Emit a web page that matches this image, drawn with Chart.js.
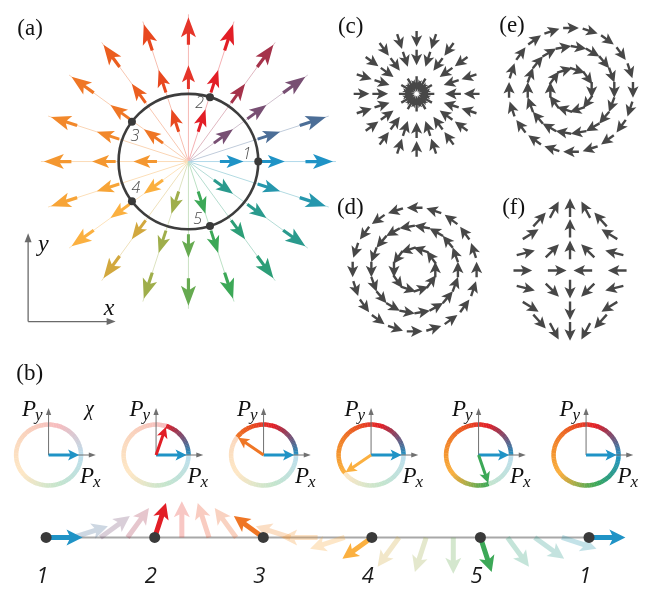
<!DOCTYPE html>
<html>
<head>
<meta charset="utf-8">
<script src="https://cdn.jsdelivr.net/npm/chart.js@4.4.1/dist/chart.umd.min.js"></script>
<style>
  html, body { margin: 0; padding: 0; background: #fff; }
  #fig { display: block; }
</style>
</head>
<body>
<canvas id="fig" width="667" height="593"></canvas>
<script>
// ---- data ----
var rayAngles = [0, 18, 36, 54, 72, 90, 108, 126, 144, 162, 180, 198, 216, 234, 252, 270, 288, 306, 324, 342];
var rayColors = ['#1f93c6', '#4c6e97', '#784f73', '#a5324a', '#e21e26', '#e5352a', '#e8481f', '#eb5e1f', '#ef7625', '#f2882b',
                 '#f49730', '#f7a437', '#fbb040', '#d2a83e', '#9fae4b', '#66aa50', '#3ca857', '#2c9e77', '#2a9a8d', '#2697ad'];
var innerAngles = [0, 36, 72, 108, 144, 180, 216, 252, 288, 324];
var rayTipRadii = [98, 147];
var innerTipRadius = 56;
var stateNames = ['1', '2', '3', '4', '5'];
var stateAngles = [0, 72, 144, 216, 288];
var stateLabelAngles = [7, 79, 155, 207, 279];

// (c) sink
var sinkTailRadii = [45, 64];
var sinkCoreAngles = [0, 30, 60, 90, 120, 150, 180, 210, 240, 270, 300, 330];

// (d), (e) vortices
var vortexRadii = [21, 44, 63];
var vortexRing10 = [0, 36, 72, 108, 144, 180, 216, 252, 288, 324];
var vortexRing18 = [0, 20, 40, 60, 80, 100, 120, 140, 160, 180, 200, 220, 240, 260, 280, 300, 320, 340];
var vortexRing20 = rayAngles;

// (f) saddle: [dx, dy (up), direction]
var saddleArrows = [
  [0, 64, 90], [0, 43, 90], [0, 21, 90], [0, -19, 270], [0, -41, 270], [0, -62, 270],
  [-48, 0, 0], [-13, 0, 0], [13, 0, 180], [48, 0, 180],
  [-16, 62, 62], [-31, 52, 48], [-40, 37, 32], [-45, 18, 14], [-18, 20, 45],
  [16, 62, 118], [31, 52, 132], [40, 37, 148], [45, 18, 166], [18, 20, 135],
  [-16, -62, -62], [-31, -52, -48], [-40, -37, -32], [-45, -18, -14], [-18, -20, -45],
  [16, -62, 242], [31, -52, 228], [40, -37, 212], [45, -18, 194], [18, -20, 225]
];

// (b) track and phase circles
var trackAngles = [0, 18, 36, 54, 72, 90, 108, 126, 144, 162, 180, 198, 216, 234, 252, 270, 288, 306, 324, 342, 360];
var trackNames = ['1', '2', '3', '4', '5', '1'];
var phaseAngles = [0, 72, 144, 216, 288, 360];

// ---- layout (positions / sizes) ----
var L = {
  a: { cx: 186, cy: 159, rx: 71, ry: 69, rayLen: 150 },
  axes: { ox: 23, oy: 322, top: 232, right: 112 },
  c: { cx: 418, cy: 90 },
  e: { cx: 575, cy: 86 },
  d: { cx: 416, cy: 269 },
  f: { cx: 574, cy: 270 },
  ring: { x0: 43.8, step: 109.3, y: 458, rx: 33, ry: 31 },
  track: { x0: 41.3, step: 27.6, y: 542, len: 37 }
};
var arrowStyles = {
  big: { head: 20, hw: 7.5, shaft: 3.2 },
  mid: { head: 17, hw: 6.5, shaft: 3 },
  gray: { head: 11.5, hw: 5.6, shaft: 2.4 },
  track: { head: 16, hw: 8, shaft: 5 },
  ring: { head: 11, hw: 5.5, shaft: 3 }
};

function hexRgb(h) { return [parseInt(h.substr(1, 2), 16), parseInt(h.substr(3, 2), 16), parseInt(h.substr(5, 2), 16)]; }
function colorAt(deg) {
  deg = ((deg % 360) + 360) % 360;
  var f = deg / 18, i = Math.floor(f), t = f - i;
  var a = hexRgb(rayColors[i % 20]), b = hexRgb(rayColors[(i + 1) % 20]);
  return [a[0] + (b[0] - a[0]) * t, a[1] + (b[1] - a[1]) * t, a[2] + (b[2] - a[2]) * t];
}
function rgbStr(c, fade) {
  return 'rgb(' + [0, 1, 2].map(function (k) { return Math.round(255 - (255 - c[k]) * fade); }).join(',') + ')';
}
function polar(cx, cy, r, deg) {
  var t = deg * Math.PI / 180;
  return { x: cx + r * Math.cos(t), y: cy - r * Math.sin(t) };
}
function ellPoint(cx, cy, rx, ry, deg) {
  var t = deg * Math.PI / 180;
  return { x: cx + rx * Math.cos(t), y: cy - ry * Math.sin(t) };
}

// ---- build datasets ----
var A = L.a;
var rayData = rayAngles.map(function (a, i) {
  var p = polar(A.cx, A.cy, A.rayLen, a);
  return { x: p.x, y: p.y, c: rayColors[i] };
});

var fieldArrows = [];
rayAngles.forEach(function (a, i) {
  rayTipRadii.forEach(function (r, j) {
    var len = j === 0 ? 24 : 28;
    var t = polar(A.cx, A.cy, r - len, a), h = polar(A.cx, A.cy, r, a);
    fieldArrows.push({ x: t.x, y: t.y, tx: h.x, ty: h.y, c: rayColors[i], alpha: 1, st: j === 0 ? 'mid' : 'big' });
  });
});
innerAngles.forEach(function (a) {
  var t = polar(A.cx, A.cy, innerTipRadius - 24, a), h = polar(A.cx, A.cy, innerTipRadius, a);
  fieldArrows.push({ x: t.x, y: t.y, tx: h.x, ty: h.y, c: rayColors[rayAngles.indexOf(a)], alpha: 1, st: 'mid' });
});

var grayArrows = [];
function pushGray(tail, tip) {
  grayArrows.push({ x: tail.x, y: tail.y, tx: tip.x, ty: tip.y, c: '#474747', alpha: 1, st: 'gray' });
}
// (c)
sinkTailRadii.forEach(function (r) {
  rayAngles.forEach(function (a) {
    pushGray(polar(L.c.cx, L.c.cy, r, a), polar(L.c.cx, L.c.cy, r - 16, a));
  });
});
sinkCoreAngles.forEach(function (a) {
  pushGray(polar(L.c.cx, L.c.cy, 18, a), polar(L.c.cx, L.c.cy, 2, a));
});
// (d) counter-clockwise, (e) clockwise
[[L.d, 1], [L.e, -1]].forEach(function (pair) {
  var P = pair[0], s = pair[1];
  [vortexRing10, vortexRing18, vortexRing20].forEach(function (ring, k) {
    ring.forEach(function (a) {
      var p = polar(P.cx, P.cy, vortexRadii[k], a);
      var u = polar(0, 0, 8, a + s * 90);
      pushGray({ x: p.x - u.x, y: p.y - u.y }, { x: p.x + u.x, y: p.y + u.y });
    });
  });
});
// (f)
saddleArrows.forEach(function (s) {
  var p = { x: L.f.cx + s[0], y: L.f.cy - s[1] };
  var u = polar(0, 0, 9.5, s[2]);
  pushGray({ x: p.x - u.x, y: p.y - u.y }, { x: p.x + u.x, y: p.y + u.y });
});

// (b) phase circles
var R = L.ring;
var phaseData = phaseAngles.map(function (p, k) { return { x: R.x0 + k * R.step, y: R.y, p: p }; });
var ringArrows = [];
phaseData.forEach(function (d) {
  ringArrows.push({ x: d.x, y: d.y, tx: d.x + 31, ty: d.y, c: rayColors[0], alpha: 1, st: 'ring' });
  if (d.p % 360 !== 0) {
    var e = ellPoint(d.x, d.y, R.rx - 1, R.ry - 1, d.p);
    ringArrows.push({ x: d.x, y: d.y, tx: e.x, ty: e.y, c: rgbStr(colorAt(d.p), 1), alpha: 1, st: 'ring' });
  }
});

// (b) track
var T = L.track;
var trackArrows = [];
trackAngles.forEach(function (a, i) {
  var tail = { x: T.x0 + i * T.step, y: T.y };
  var tip = polar(tail.x, tail.y, T.len, a);
  var bright = i % 4 === 0;
  trackArrows.push({ x: tail.x, y: tail.y, tx: tip.x, ty: tip.y, c: rgbStr(colorAt(a), 1), alpha: bright ? 1 : 0.28, st: 'track' });
});
trackArrows.sort(function (p, q) { return p.alpha - q.alpha; });

var stateDots = stateAngles.map(function (a) { return ellPoint(A.cx, A.cy, A.rx, A.ry, a); });
var trackDots = trackNames.map(function (n, k) { return { x: T.x0 + k * 4 * T.step, y: T.y }; });

// ---- drawing helpers ----
function drawArrow(ctx, x0, y0, x1, y1, st, color, alpha) {
  var dx = x1 - x0, dy = y1 - y0, len = Math.hypot(dx, dy);
  if (len < 0.5) return;
  var ux = dx / len, uy = dy / len, nx = -uy, ny = ux;
  var hl = Math.min(st.head, len * 0.85), hw = st.hw, sw = st.shaft / 2;
  var notch = 0.76;
  var neckU = -hl + (1 - notch) * hl * (hw - sw) / hw;
  function pt(u, n) { return [x1 + ux * u + nx * n, y1 + uy * u + ny * n]; }
  var pts = [
    [x0 + nx * sw, y0 + ny * sw], pt(neckU, sw), pt(-hl, hw), [x1, y1],
    pt(-hl, -hw), pt(neckU, -sw), [x0 - nx * sw, y0 - ny * sw]
  ];
  ctx.globalAlpha = alpha;
  ctx.fillStyle = color;
  ctx.beginPath();
  ctx.moveTo(pts[0][0], pts[0][1]);
  for (var i = 1; i < pts.length; i++) ctx.lineTo(pts[i][0], pts[i][1]);
  ctx.closePath();
  ctx.fill();
  ctx.globalAlpha = 1;
}
function axisArrow(ctx, x0, y0, x1, y1, color, width, hl, hw) {
  var dx = x1 - x0, dy = y1 - y0, len = Math.hypot(dx, dy), ux = dx / len, uy = dy / len;
  ctx.strokeStyle = color; ctx.fillStyle = color; ctx.lineWidth = width;
  ctx.beginPath(); ctx.moveTo(x0, y0); ctx.lineTo(x1 - ux * hl * 0.6, y1 - uy * hl * 0.6); ctx.stroke();
  ctx.beginPath();
  ctx.moveTo(x1, y1);
  ctx.lineTo(x1 - ux * hl - uy * hw, y1 - uy * hl + ux * hw);
  ctx.lineTo(x1 - ux * hl + uy * hw, y1 - uy * hl - ux * hw);
  ctx.closePath(); ctx.fill();
}

var figurePlugin = {
  id: 'figure',
  beforeDatasetsDraw: function (chart) {
    var ctx = chart.ctx, xs = chart.scales.x, ys = chart.scales.y;
    function X(v) { return xs.getPixelForValue(v); }
    function Y(v) { return ys.getPixelForValue(v); }
    ctx.save();
    chart.data.datasets.forEach(function (ds, di) {
      var meta = chart.getDatasetMeta(di);
      if (ds.kind === 'rays') {
        meta.data.forEach(function (el, i) {
          ctx.strokeStyle = rgbStr(hexRgb(ds.data[i].c), 0.35);
          ctx.lineWidth = 1;
          ctx.beginPath(); ctx.moveTo(X(ds.cx), Y(ds.cy)); ctx.lineTo(el.x, el.y); ctx.stroke();
        });
      } else if (ds.kind === 'loop') {
        var el = meta.data[0];
        ctx.strokeStyle = '#3d3d3d'; ctx.lineWidth = 2.6;
        ctx.beginPath();
        ctx.ellipse(el.x, el.y, X(ds.data[0].x + ds.rx) - el.x, Y(ds.data[0].y + ds.ry) - el.y, 0, 0, Math.PI * 2);
        ctx.stroke();
      } else if (ds.kind === 'phase') {
        meta.data.forEach(function (el, i) {
          var d = ds.data[i];
          var rx = X(d.x + ds.rx) - el.x, ry = Y(d.y + ds.ry) - el.y;
          ctx.lineWidth = 4.5; ctx.lineCap = 'butt';
          for (var a = 0; a < 360; a += 3) {
            var on = a + 1.5 <= d.p;
            ctx.strokeStyle = rgbStr(colorAt(a + 1.5), on ? 1 : 0.3);
            ctx.beginPath();
            ctx.ellipse(el.x, el.y, rx, ry, 0, -(a + 3.6) * Math.PI / 180, -a * Math.PI / 180);
            ctx.stroke();
          }
          axisArrow(ctx, el.x, el.y, el.x, Y(d.y - 48), '#707070', 1, 7, 2.6);
          axisArrow(ctx, el.x, el.y, X(d.x + 48), el.y, '#707070', 1, 7, 2.6);
        });
      } else if (ds.kind === 'trackline') {
        ctx.strokeStyle = '#a8a8a8'; ctx.lineWidth = 2;
        ctx.beginPath();
        ctx.moveTo(meta.data[0].x, meta.data[0].y);
        ctx.lineTo(meta.data[1].x, meta.data[1].y);
        ctx.stroke();
      } else if (ds.kind === 'arrows') {
        meta.data.forEach(function (el, i) {
          var d = ds.data[i];
          drawArrow(ctx, el.x, el.y, X(d.tx), Y(d.ty), arrowStyles[d.st], d.c, d.alpha);
        });
      }
    });
    ctx.restore();
  },
  afterDatasetsDraw: function (chart) {
    var ctx = chart.ctx, xs = chart.scales.x, ys = chart.scales.y;
    function X(v) { return xs.getPixelForValue(v); }
    function Y(v) { return ys.getPixelForValue(v); }
    ctx.save();
    // panel letters
    ctx.fillStyle = '#111';
    ctx.font = '23px "Liberation Serif", serif';
    ctx.textBaseline = 'alphabetic'; ctx.textAlign = 'left';
    [['(a)', 12, 30], ['(c)', 338, 28], ['(e)', 502, 27], ['(d)', 337, 212], ['(f)', 505, 212], ['(b)', 11, 382]].forEach(function (t) {
      ctx.fillText(t[0], X(t[1]), Y(t[2]));
    });
    // x-y axes of (a)
    var ax = L.axes;
    axisArrow(ctx, X(ax.ox), Y(ax.oy), X(ax.ox), Y(ax.top), '#6a6a6a', 1.3, 9, 3.5);
    axisArrow(ctx, X(ax.ox), Y(ax.oy), X(ax.right), Y(ax.oy), '#6a6a6a', 1.3, 9, 3.5);
    ctx.fillStyle = '#111';
    ctx.font = 'italic 24px "Liberation Serif", serif';
    ctx.fillText('y', X(33), Y(250));
    ctx.fillText('x', X(100), Y(315));
    // state numbers in (a)
    ctx.fillStyle = '#4a4a4a';
    ctx.font = 'italic 300 16px "Open Sans", sans-serif';
    ctx.textAlign = 'center'; ctx.textBaseline = 'middle';
    stateNames.forEach(function (n, i) {
      var p = polar(A.cx, A.cy, 60, stateLabelAngles[i]);
      ctx.fillText(n, X(p.x), Y(p.y));
    });
    // P labels in (b)
    ctx.textAlign = 'left'; ctx.textBaseline = 'alphabetic';
    phaseData.forEach(function (d, k) {
      ctx.fillStyle = '#111';
      ctx.font = 'italic 23px "Liberation Serif", serif';
      ctx.fillText('P', X(d.x - 27), Y(d.y - 40));
      var w = ctx.measureText('P').width;
      ctx.fillText('P', X(d.x + 32), Y(d.y + 29));
      ctx.font = 'italic 17px "Liberation Serif", serif';
      ctx.fillText('y', X(d.x - 27) + w - 1, Y(d.y - 36));
      ctx.fillText('x', X(d.x + 32) + w - 1, Y(d.y + 33));
      if (k === 0) {
        ctx.font = 'italic 20px "Liberation Serif", serif';
        ctx.fillText('\u03c7', X(d.x + 37), Y(d.y - 41));
      }
    });
    // track numbers
    ctx.fillStyle = '#1a1a1a';
    ctx.font = 'italic 22px "Open Sans", sans-serif';
    ctx.textAlign = 'center';
    trackNames.forEach(function (n, k) {
      ctx.fillText(n, X(trackDots[k].x - 4), Y(588));
    });
    ctx.restore();
  }
};

var hidden = { pointRadius: 0, pointHoverRadius: 0, showLine: false };
function ds(extra) { return Object.assign({}, hidden, extra); }

new Chart(document.getElementById('fig'), {
  type: 'scatter',
  data: {
    datasets: [
      ds({ kind: 'rays', data: rayData, cx: A.cx, cy: A.cy }),
      ds({ kind: 'loop', data: [{ x: A.cx, y: A.cy }], rx: A.rx, ry: A.ry }),
      ds({ kind: 'phase', data: phaseData, rx: R.rx, ry: R.ry }),
      ds({ kind: 'trackline', data: [trackDots[0], trackDots[trackDots.length - 1]] }),
      ds({ kind: 'arrows', data: fieldArrows }),
      ds({ kind: 'arrows', data: grayArrows }),
      ds({ kind: 'arrows', data: ringArrows }),
      ds({ kind: 'arrows', data: trackArrows }),
      { kind: 'dots', data: stateDots, pointRadius: 4, pointBackgroundColor: '#3a3a3a', pointBorderWidth: 0, pointHoverRadius: 4 },
      { kind: 'dots', data: trackDots, pointRadius: 5.5, pointBackgroundColor: '#3a3a3a', pointBorderWidth: 0, pointHoverRadius: 5.5 }
    ]
  },
  options: {
    responsive: false,
    animation: false,
    devicePixelRatio: 1,
    events: [],
    layout: { padding: 0 },
    plugins: { legend: { display: false }, tooltip: { enabled: false } },
    scales: {
      x: { type: 'linear', min: 0, max: 667, display: false },
      y: { type: 'linear', min: 0, max: 593, reverse: true, display: false }
    }
  },
  plugins: [figurePlugin]
});
</script>
</body>
</html>
